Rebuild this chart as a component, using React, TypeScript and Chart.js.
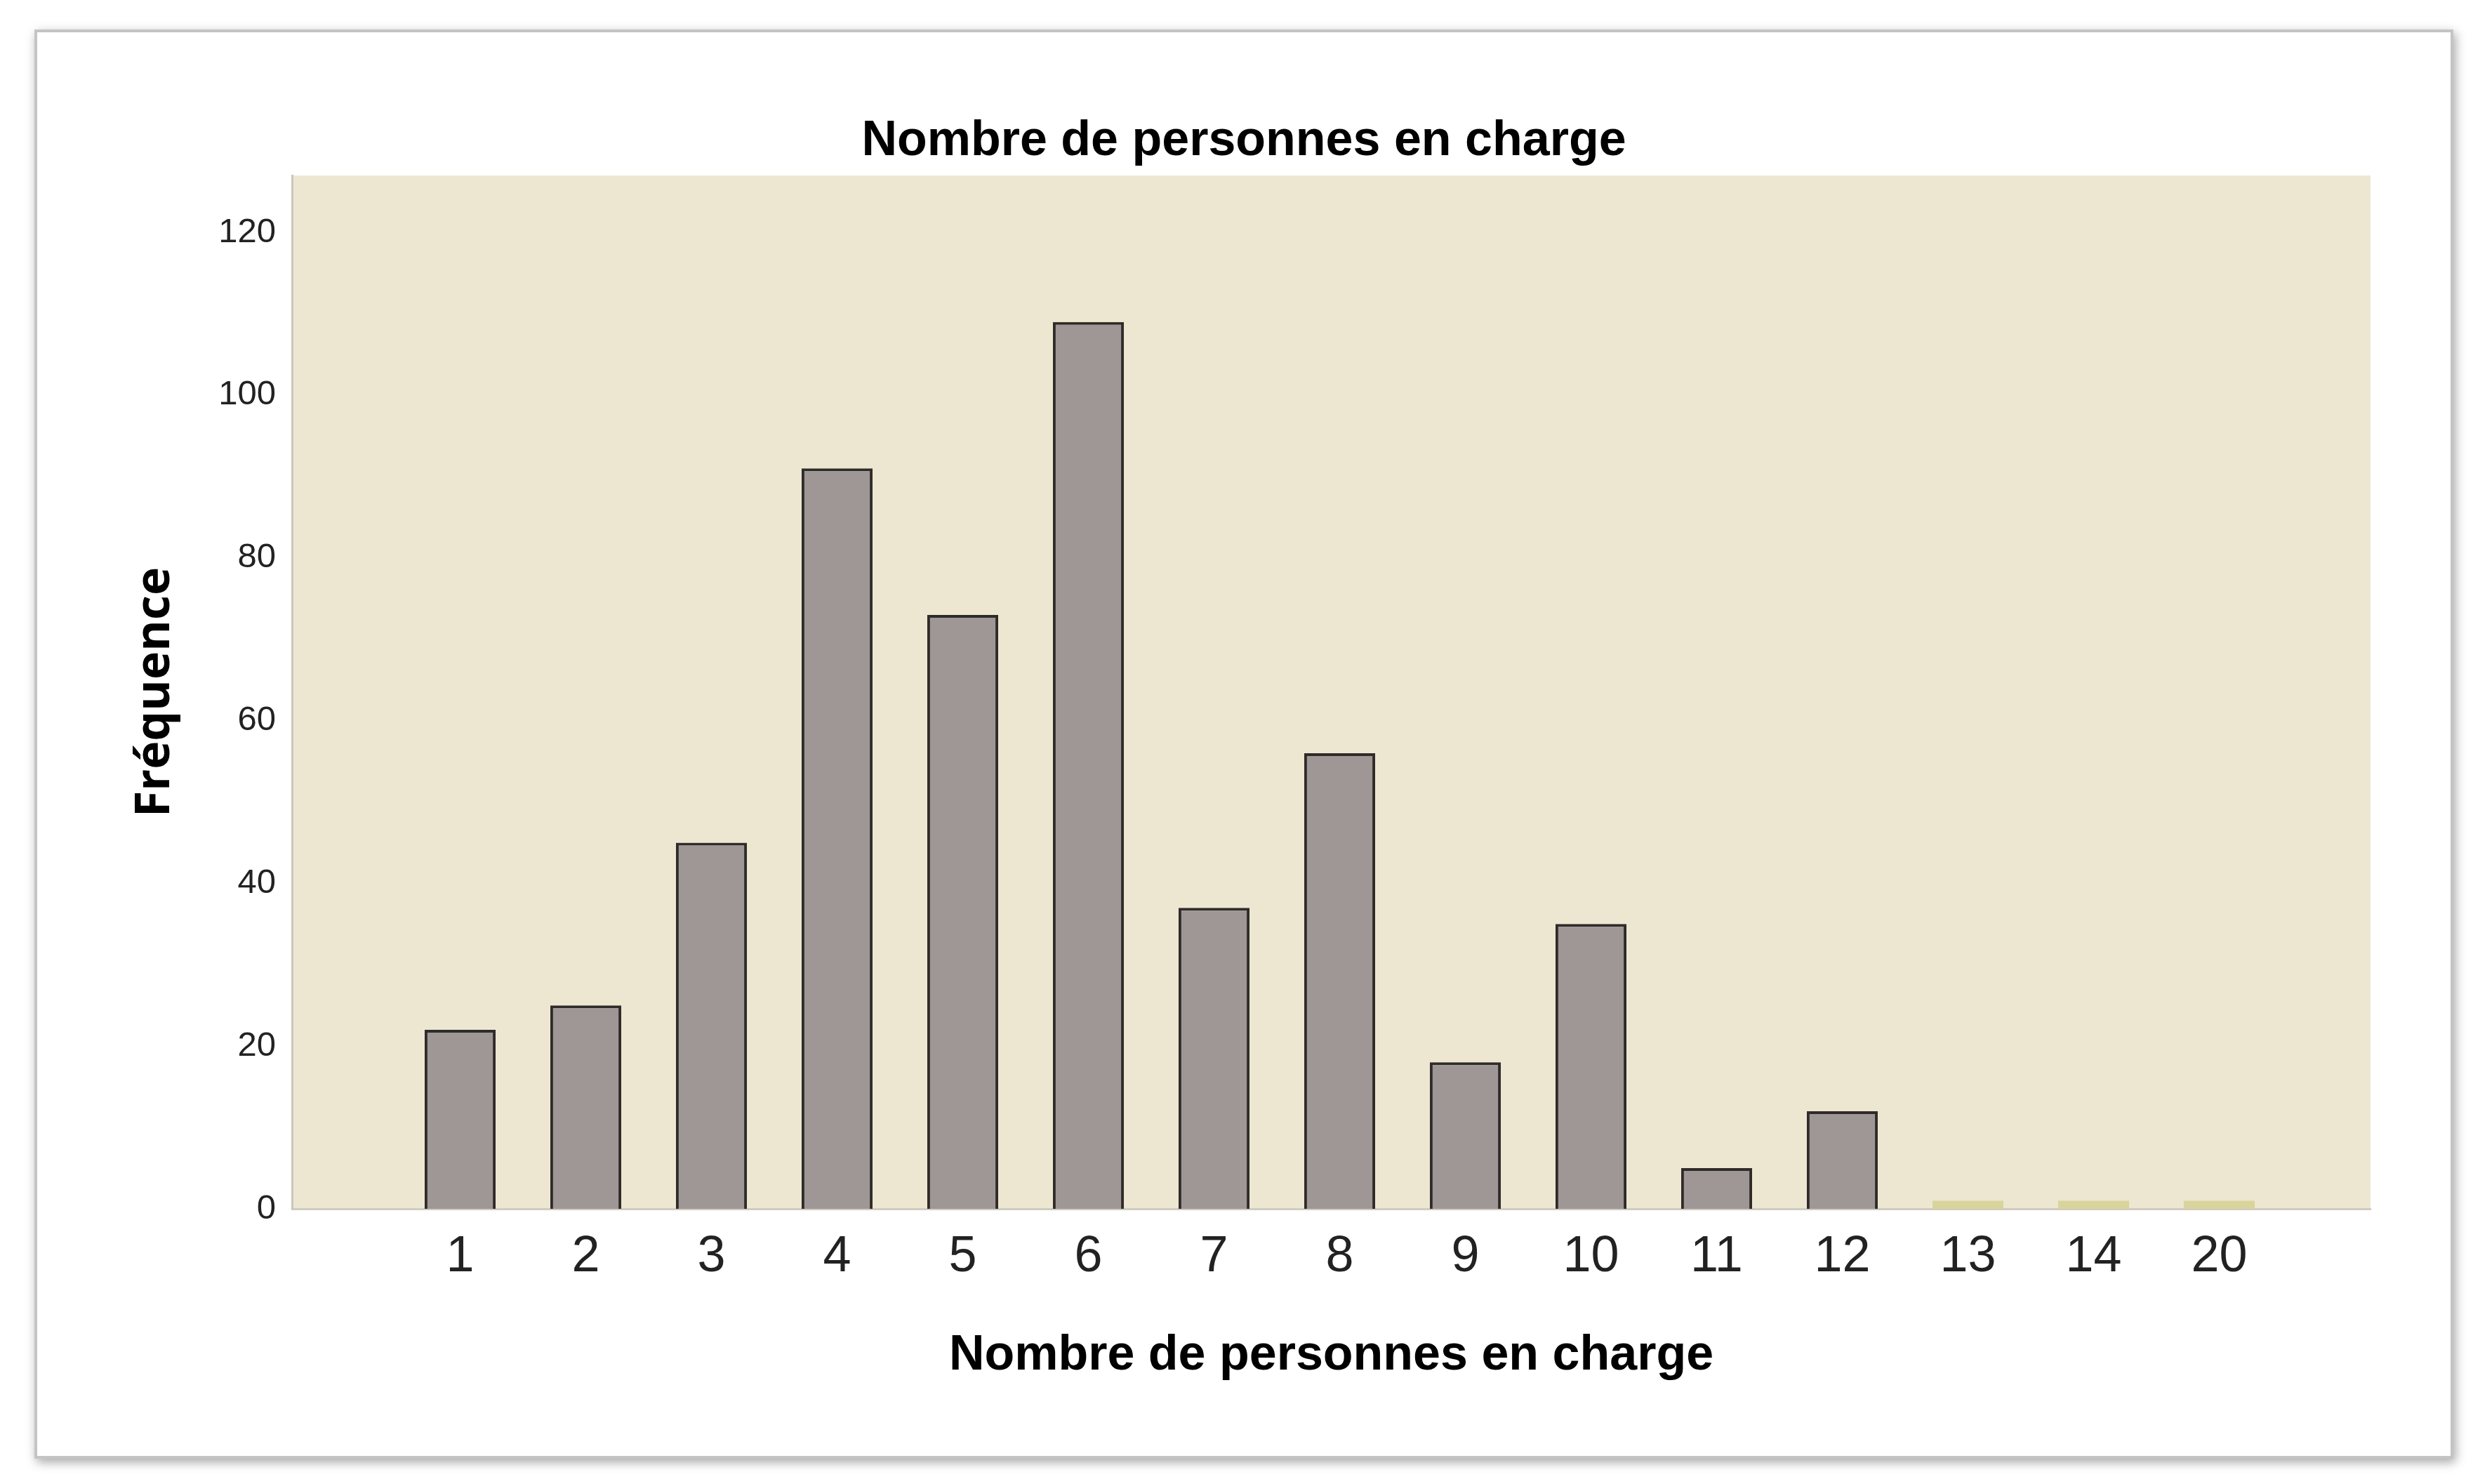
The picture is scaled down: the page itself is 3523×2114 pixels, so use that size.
import React, { useEffect, useRef } from 'react';
import { Chart, registerables } from 'chart.js';

Chart.register(...registerables);

// ---- Data ----
const categories = ['1', '2', '3', '4', '5', '6', '7', '8', '9', '10', '11', '12', '13', '14', '20'];
const frequencies = [22, 25, 45, 91, 73, 109, 37, 56, 18, 35, 5, 12, 1, 1, 1];
const yTickValues = [0, 20, 40, 60, 80, 100, 120];
const yMax = 127;
const chartTitle = 'Nombre de personnes en charge';
const xAxisTitle = 'Nombre de personnes en charge';
const yAxisTitle = 'Fréquence';

const ARIAL = "'Liberation Sans', Arial, Helvetica, sans-serif";
const OPEN = "'Open Sans', 'Noto Sans', sans-serif";

const plotBackground = {
  id: 'plotBackground',
  beforeDraw(chart: any) {
    const { ctx, chartArea } = chart;
    if (!chartArea) return;
    ctx.save();
    ctx.fillStyle = '#ede7d2';
    ctx.fillRect(chartArea.left, chartArea.top, chartArea.right - chartArea.left, chartArea.bottom - chartArea.top);
    ctx.restore();
  },
};

export default function App() {
  const canvasRef = useRef<HTMLCanvasElement | null>(null);

  useEffect(() => {
    if (!canvasRef.current) return;
    const points = categories.map((_, i) => ({ x: i + 1, y: frequencies[i] }));
    const chart = new Chart(canvasRef.current, {
      type: 'bar',
      data: {
        datasets: [
          {
            data: points as any,
            backgroundColor: (ctx: any) => (ctx.raw && ctx.raw.y <= 1 ? '#d9d49b' : '#9e9796'),
            borderColor: '#2f2b29',
            borderWidth: (ctx: any) => (ctx.raw && ctx.raw.y <= 1 ? 0 : 4),
            categoryPercentage: 1,
            barPercentage: 0.565,
          },
        ],
      },
      options: {
        animation: false,
        responsive: false,
        layout: { padding: { left: 167, right: 146, top: 100, bottom: 140 } },
        plugins: {
          legend: { display: false },
          tooltip: { enabled: false },
          title: {
            display: true,
            text: chartTitle,
            color: '#000',
            font: { family: ARIAL, size: 70, weight: 'bold', lineHeight: 1.2 },
            padding: { top: 60, bottom: 6 },
          },
        },
        scales: {
          x: {
            type: 'linear',
            offset: false,
            min: -0.338,
            max: 16.204,
            grid: { display: false, drawTicks: false },
            border: { display: true, color: '#cfcbc1', width: 3 },
            afterBuildTicks: (axis: any) => {
              axis.ticks = categories.map((_, i) => ({ value: i + 1 }));
            },
            ticks: {
              autoSkip: false,
              maxRotation: 0,
              padding: 26,
              color: '#222',
              font: { family: ARIAL, size: 72 },
              callback: (_v: any, i: number) => categories[i],
            },
            title: {
              display: true,
              text: xAxisTitle,
              color: '#000',
              font: { family: ARIAL, size: 70, weight: 'bold', lineHeight: 1.2 },
              padding: { top: 0, bottom: 0 },
            },
            afterFit: (s: any) => {
              s.height = 252;
            },
          },
          y: {
            min: 0,
            max: yMax,
            grid: { display: false, drawTicks: false },
            border: { display: true, color: '#cac6bc', width: 3 },
            afterBuildTicks: (axis: any) => {
              axis.ticks = yTickValues.map((v) => ({ value: v }));
            },
            ticks: {
              padding: 23,
              color: '#222',
              font: { family: ARIAL, size: 49 },
            },
            title: {
              display: true,
              text: yAxisTitle,
              color: '#000',
              font: { family: OPEN, size: 68, weight: 'bold', lineHeight: 1.2 },
              padding: { top: 14, bottom: 0 },
            },
            afterFit: (s: any) => {
              s.width = 249;
            },
          },
        },
      } as any,
      plugins: [plotBackground],
    });
    return () => chart.destroy();
  }, []);

  return (
    <div style={{ position: 'fixed', left: 0, top: 0, width: 3523, height: 2114, background: '#fff', overflow: 'hidden' }}>
      <div
        style={{
          position: 'absolute',
          left: 49,
          top: 42,
          width: 3446,
          height: 2036,
          boxSizing: 'border-box',
          border: '4px solid #c4c4c4',
          boxShadow: '3px 5px 14px rgba(0,0,0,0.35)',
          background: '#fff',
        }}
      />
      <canvas
        ref={canvasRef}
        width={3523}
        height={2114}
        style={{ position: 'absolute', left: 0, top: 0, width: 3523, height: 2114 }}
      />
    </div>
  );
}
